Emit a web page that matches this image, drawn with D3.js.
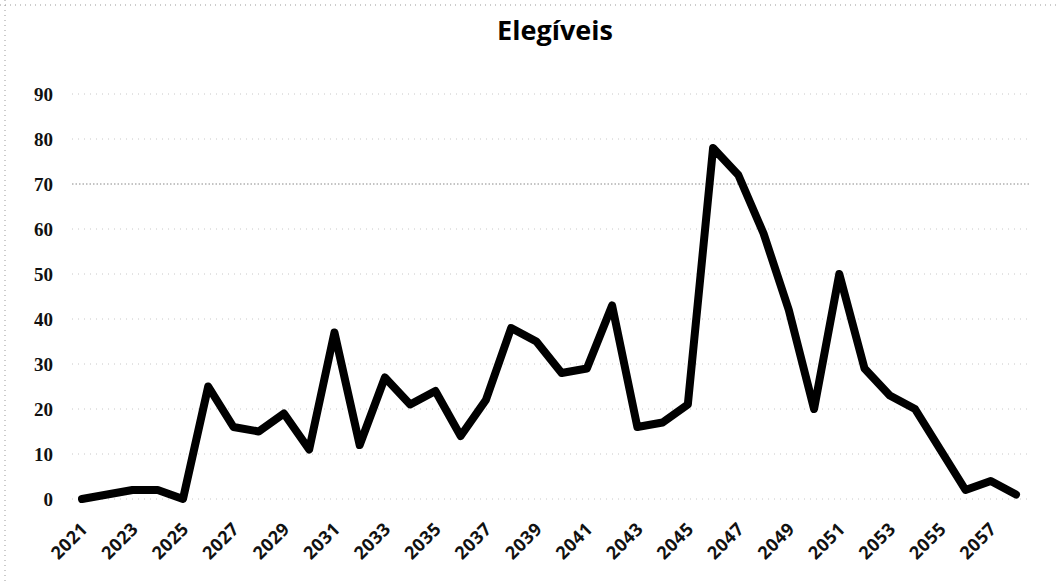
<!DOCTYPE html>
<html>
<head>
<meta charset="utf-8">
<script src="https://cdn.jsdelivr.net/npm/d3@7/dist/d3.min.js"></script>
<style>
  html, body { margin: 0; padding: 0; background: #fff; }
  svg { display: block; }
</style>
</head>
<body>
<svg id="chart" width="1056" height="584"></svg>
<script>
const title = "Elegíveis";
const years = d3.range(2021, 2059);
const values = [0, 1, 2, 2, 0, 25, 16, 15, 19, 11, 37, 12, 27, 21, 24, 14, 22, 38, 35, 28,
                29, 43, 16, 17, 21, 78, 72, 59, 42, 20, 50, 29, 23, 20, 11, 2, 4, 1];
const yTicks = [0, 10, 20, 30, 40, 50, 60, 70, 80, 90];
const xTickLabels = years.filter((y, i) => i % 2 === 0);

const svg = d3.select("#chart");
const W = 1056, H = 584;

// faint scanned-page border
svg.append("line").attr("x1", 5).attr("x2", 5).attr("y1", 0).attr("y2", H)
  .attr("stroke", "#999").attr("stroke-width", 1).attr("stroke-dasharray", "1,4");
svg.append("line").attr("x1", 0).attr("x2", W).attr("y1", 5).attr("y2", 5)
  .attr("stroke", "#999").attr("stroke-width", 1).attr("stroke-dasharray", "1,4");

const x = d3.scalePoint().domain(years).range([82, 1016]);
const y = d3.scaleLinear().domain([0, 90]).range([499, 94]);

// gridlines
const grid = svg.append("g").attr("class", "grid");
grid.selectAll("line").data(yTicks).join("line")
  .attr("x1", 72).attr("x2", 1030)
  .attr("y1", d => y(d)).attr("y2", d => y(d))
  .attr("stroke", d => d === 70 ? "#888" : "#c8c8c8")
  .attr("stroke-width", 1)
  .attr("stroke-dasharray", d => d === 70 ? "1.5,2" : "1,5");

// y axis labels
const yAxis = d3.axisLeft(y).tickValues(yTicks).tickSize(0).tickPadding(0);
const gy = svg.append("g").attr("transform", "translate(53,0)").call(yAxis);
gy.select(".domain").remove();
gy.selectAll("text")
  .attr("font-family", "'Liberation Serif', 'DejaVu Serif', serif")
  .attr("font-size", 19).attr("font-weight", "bold").attr("fill", "#111");

// x axis labels
const xAxis = d3.axisBottom(x).tickValues(xTickLabels).tickSize(0).tickPadding(0);
const gx = svg.append("g").call(xAxis);
gx.select(".domain").remove();
gx.selectAll(".tick").attr("transform", d => `translate(${x(d) + 7},530)`);
gx.selectAll("text")
  .attr("font-family", "'Open Sans', 'Liberation Sans', sans-serif")
  .attr("font-size", 18).attr("font-weight", "bold").attr("fill", "#111")
  .attr("letter-spacing", "0.5px")
  .attr("text-anchor", "end")
  .attr("x", 0).attr("y", 0).attr("dy", 0)
  .attr("transform", "rotate(-45)");

// line
const line = d3.line().x((d, i) => x(years[i])).y(d => y(d));
svg.append("path").datum(values)
  .attr("d", line)
  .attr("fill", "none")
  .attr("stroke", "#000")
  .attr("stroke-width", 8)
  .attr("stroke-linejoin", "round")
  .attr("stroke-linecap", "round");

// title
svg.append("text").attr("x", 555).attr("y", 40)
  .attr("text-anchor", "middle")
  .attr("font-family", "'Open Sans', 'Liberation Sans', sans-serif")
  .attr("font-size", 27).attr("font-weight", "bold").attr("fill", "#000")
  .text(title);
</script>
</body>
</html>
